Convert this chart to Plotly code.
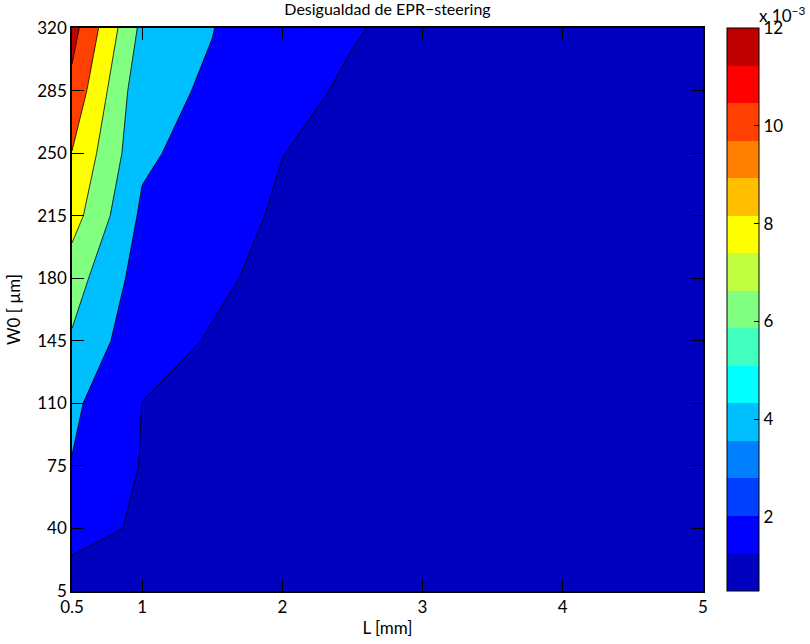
import numpy as np
import plotly.graph_objects as go

# Grid: cavity length L (mm) and beam waist W0 (µm)
L_mm = [0.5, 1.0, 1.5, 2.0, 2.5, 3.0, 3.5, 4.0, 4.5, 5.0]
W0_um = [5, 40, 75, 110, 145, 180, 215, 250, 285, 320]

# EPR-steering inequality value (units of 1e-3), one list per W0 row
ineq_w5 = [0.80, 0.72, 0.66, 0.62, 0.59, 0.56, 0.54, 0.52, 0.50, 0.49]
ineq_w40 = [2.90, 1.66, 1.25, 1.05, 0.93, 0.85, 0.79, 0.74, 0.70, 0.67]
ineq_w75 = [3.92, 1.90, 1.45, 1.22, 1.08, 0.98, 0.91, 0.86, 0.82, 0.78]
ineq_w110 = [4.38, 1.985, 1.62, 1.36, 1.20, 1.09, 1.01, 0.95, 0.90, 0.86]
ineq_w145 = [5.78, 2.58, 1.89, 1.48, 1.30, 1.18, 1.10, 1.03, 0.97, 0.93]
ineq_w180 = [6.90, 3.10, 2.25, 1.60, 1.40, 1.27, 1.18, 1.11, 1.05, 1.00]
ineq_w215 = [8.85, 3.62, 2.60, 1.80, 1.50, 1.36, 1.26, 1.18, 1.12, 1.07]
ineq_w250 = [9.95, 4.40, 3.01, 2.02, 1.60, 1.44, 1.33, 1.25, 1.19, 1.13]
ineq_w285 = [11.45, 4.60, 3.75, 2.40, 1.80, 1.55, 1.42, 1.33, 1.26, 1.20]
ineq_w320 = [12.75, 5.50, 4.05, 2.60, 2.10, 1.60, 1.48, 1.39, 1.32, 1.26]

scale = 1e-3
Z = np.array([ineq_w5, ineq_w40, ineq_w75, ineq_w110, ineq_w145,
              ineq_w180, ineq_w215, ineq_w250, ineq_w285, ineq_w320]) * scale

# contour levels
level_start, level_end, level_step = 2e-3, 12e-3, 2e-3
levels = np.arange(level_start, level_end + level_step / 2, level_step)

# jet-like colormap with 15 entries
jet15 = ['#0000BF', '#0000FF', '#0040FF', '#0080FF', '#00BFFF', '#00FFFF',
         '#40FFBF', '#80FF80', '#BFFF40', '#FFFF00', '#FFBF00', '#FF8000',
         '#FF4000', '#FF0000', '#BF0000']
cmin = float(Z.min())
cmax = float(levels[-1])
ncol = len(jet15)


def cmap_index(v):
    k = int(np.floor((v - cmin) / (cmax - cmin) * ncol))
    return min(max(k, 0), ncol - 1)


# each filled band takes the colour of its lower bound
band_lows = [cmin] + list(levels)
band_colors = [jet15[cmap_index(v)] for v in band_lows]
nb = len(band_colors)
fill_scale = [[i / (nb - 1), c] for i, c in enumerate(band_colors)]

# stepped colour scale for the colour bar
bar_scale = []
for i, c in enumerate(jet15):
    bar_scale.append([i / ncol, c])
    bar_scale.append([(i + 1) / ncol, c])

font_family = "Lato, 'Open Sans', sans-serif"
fs = 17

fig = go.Figure()

fig.add_trace(go.Heatmap(
    x=L_mm, y=W0_um, z=Z,
    colorscale=bar_scale, zmin=cmin, zmax=cmax,
    hoverinfo='skip',
    showscale=True,
    colorbar=dict(
        x=(727 - 72) / 631, xanchor='left', xref='paper',
        y=0.5, yanchor='middle', len=1.0, lenmode='fraction',
        thickness=32, thicknessmode='pixels',
        outlinewidth=1, outlinecolor='black',
        tickvals=list(levels),
        ticktext=[f"{v / scale:.0f}" for v in levels],
        ticks='inside', ticklen=5, tickcolor='black',
        tickfont=dict(family=font_family, size=fs, color='black'),
        xpad=0, ypad=0,
    ),
))

fig.add_trace(go.Contour(
    x=L_mm, y=W0_um, z=Z,
    autocontour=False,
    contours=dict(start=level_start, end=level_end, size=level_step,
                  coloring='fill'),
    colorscale=fill_scale,
    line=dict(color='black', width=0.8, smoothing=0),
    showscale=False,
    hoverinfo='skip',
))

axis_common = dict(
    showgrid=False, zeroline=False, automargin=False,
    showline=True, linecolor='black', linewidth=1.5, mirror='ticks',
    ticks='inside', ticklen=12, tickcolor='black', tickwidth=1,
    tickfont=dict(family=font_family, size=fs, color='black'),
)

fig.update_layout(
    width=810, height=644,
    margin=dict(l=72, r=107, t=28, b=53, autoexpand=False),
    paper_bgcolor='white', plot_bgcolor='white',
    font=dict(family=font_family, color='black'),
    title=dict(text='Desigualdad de EPR\u2212steering',
               x=387.5 / 810, xanchor='center', xref='container',
               y=(644 - 9.5) / 644, yanchor='middle', yref='container',
               font=dict(family=font_family, size=16, color='black')),
    xaxis=dict(range=[0.5, 5], tickvals=[0.5, 1, 2, 3, 4, 5],
               ticktext=['0.5', '1', '2', '3', '4', '5'],
               title=dict(text='L [mm]', standoff=6,
                          font=dict(family=font_family, size=fs)),
               **axis_common),
    yaxis=dict(range=[5, 320], tickvals=W0_um,
               title=dict(text='W0 [ \u00b5m]', standoff=12,
                          font=dict(family=font_family, size=fs)),
               **axis_common),
    annotations=[dict(
        text='x 10<sup>\u22123</sup>', xref='paper', yref='paper',
        x=(757 - 72) / 631, y=(591 - 14) / 563, xanchor='left', yanchor='middle',
        showarrow=False, font=dict(family=font_family, size=fs, color='black'),
    )],
)

fig.write_html("out.html")
